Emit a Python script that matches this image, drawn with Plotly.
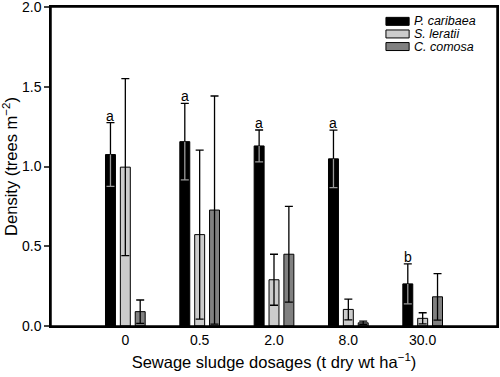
import plotly.graph_objects as go

doses = ["0", "0.5", "2.0", "8.0", "30.0"]
series_names = ["P. caribaea", "S. leratii", "C. comosa"]
p_caribaea = [1.075, 1.156, 1.129, 1.048, 0.264]
p_caribaea_err = [0.20, 0.24, 0.10, 0.18, 0.125]
s_leratii = [0.996, 0.573, 0.29, 0.104, 0.048]
s_leratii_err = [0.555, 0.53, 0.16, 0.065, 0.035]
c_comosa = [0.09, 0.727, 0.45, 0.02, 0.183]
c_comosa_err = [0.073, 0.715, 0.30, 0.01, 0.146]
letters = ["a", "a", "a", "a", "b"]
y_ticks = [0.0, 0.5, 1.0, 1.5, 2.0]

values = [p_caribaea, s_leratii, c_comosa]
errors = [p_caribaea_err, s_leratii_err, c_comosa_err]
fills = ["#000000", "#cccccc", "#808080"]

FONT = "Liberation Sans, Arial, sans-serif"
fig = go.Figure()

for i, (name, v, e, c) in enumerate(zip(series_names, values, errors, fills)):
    fig.add_trace(go.Bar(
        x=doses, y=v, name=name, offsetgroup=str(i), showlegend=False,
        marker=dict(color=c, line=dict(color="#000000", width=1)),
        error_y=dict(type="data", array=e, symmetric=True, color="#000000",
                     thickness=1.3, width=4),
    ))

# lower half of P. caribaea error bars, visible inside the black bars
lower_base = [v - e for v, e in zip(p_caribaea, p_caribaea_err)]
fig.add_trace(go.Bar(
    x=doses, y=lower_base, offsetgroup="0", showlegend=False, hoverinfo="skip",
    marker=dict(color="rgba(0,0,0,0)", line=dict(width=0)),
    error_y=dict(type="data", symmetric=False, array=p_caribaea_err,
                 arrayminus=[0] * len(doses), color="#9a9a9a", thickness=1.3, width=0),
))
fig.add_trace(go.Bar(
    x=doses, y=lower_base, offsetgroup="0", showlegend=False, hoverinfo="skip",
    marker=dict(color="rgba(0,0,0,0)", line=dict(width=0)),
    error_y=dict(type="data", symmetric=False, array=[0] * len(doses),
                 arrayminus=[0] * len(doses), color="#9a9a9a", thickness=1.3, width=4),
))

# significance letters above P. caribaea bars
for idx, (v, e, t) in enumerate(zip(p_caribaea, p_caribaea_err, letters)):
    fig.add_annotation(x=idx, y=v + e, text=t, showarrow=False, xshift=-15,
                       yanchor="bottom", yshift=-3,
                       font=dict(family=FONT, size=14, color="#000000"))

# legend block (top right)
for k, (name, c) in enumerate(zip(series_names, fills)):
    yc = 0.955 - k * 0.0395
    fig.add_shape(type="rect", xref="paper", yref="paper",
                  x0=0.751, x1=0.803, y0=yc - 0.0125, y1=yc + 0.0125,
                  fillcolor=c, line=dict(color="#000000", width=1))
    fig.add_annotation(xref="paper", yref="paper", x=0.812, y=yc,
                       xanchor="left", yanchor="middle", showarrow=False,
                       text="<i>" + name + "</i>", borderpad=0,
                       font=dict(family=FONT, size=12.5, color="#000000"))

# plot frame
fig.add_shape(type="rect", xref="paper", yref="paper", x0=0, x1=1, y0=0, y1=1,
              line=dict(color="#000000", width=1.5), fillcolor="rgba(0,0,0,0)",
              layer="above")

fig.update_layout(
    width=500, height=377,
    margin=dict(l=51, r=3, t=7, b=51, autoexpand=False),
    paper_bgcolor="white", plot_bgcolor="white",
    barmode="group", bargap=0.4, bargroupgap=0.33,
    font=dict(family=FONT, size=14, color="#000000"),
    showlegend=False,
    xaxis=dict(type="category", range=[-1, 5], showline=True, linecolor="#000000",
               linewidth=1.5, mirror=True, ticks="", showgrid=False, automargin=False,
               title=dict(text="Sewage sludge dosages (t dry wt ha<sup>\u22121</sup>)",
                          font=dict(size=16.5), standoff=10)),
    yaxis=dict(range=[0, 2.0001], tickmode="array", tickvals=y_ticks,
               ticktext=["%.1f" % t for t in y_ticks], showline=True, automargin=False,
               ticklabeloverflow="allow",
               linecolor="#000000", linewidth=1.5, mirror=True, ticks="outside",
               ticklen=5, tickwidth=1.5, showgrid=False, zeroline=False,
               title=dict(text="Density (trees m<sup>\u22122</sup>)",
                          font=dict(size=16.5), standoff=8)),
)

fig.write_html("out.html", config={"displayModeBar": False},
               post_script="document.body.style.margin='0';")
